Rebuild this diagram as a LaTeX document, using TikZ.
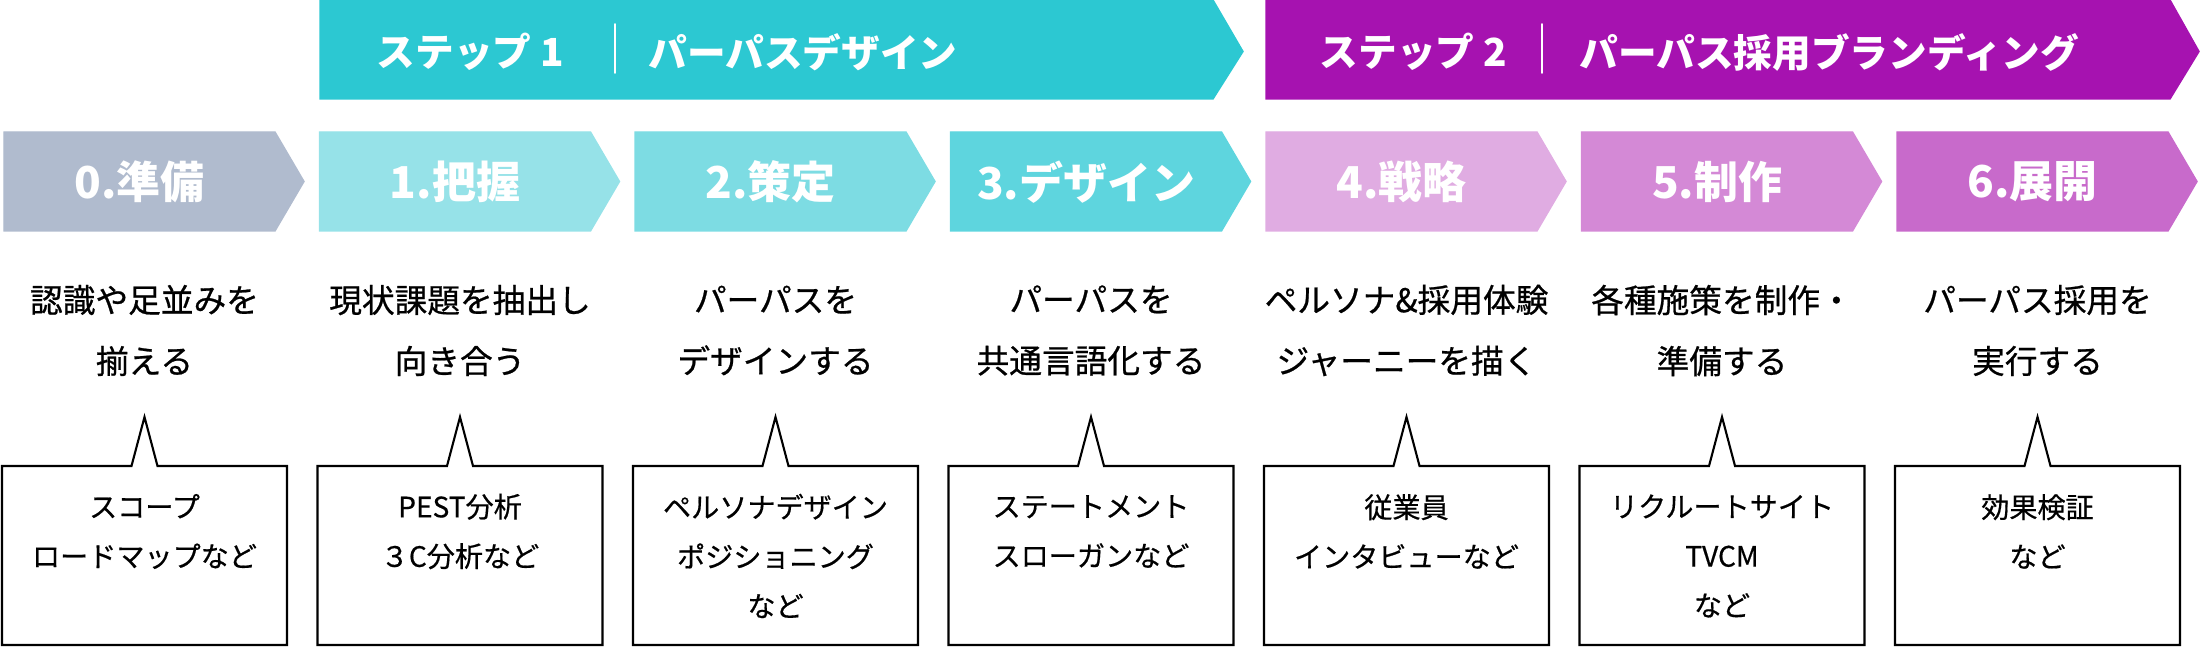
\documentclass[tikz,border=0pt]{standalone}
\usepackage{fontspec}
\setmainfont{Noto Sans CJK JP}
\newfontfamily\descfont{Noto Sans CJK JP}[FakeBold=0.7]
\newfontfamily\toolfont{Noto Sans CJK JP}[FakeBold=0.5]
\usetikzlibrary{positioning}
\definecolor{color0}{RGB}{176,187,206}
\definecolor{color1}{RGB}{150,226,232}
\definecolor{color2}{RGB}{125,220,227}
\definecolor{color3}{RGB}{94,213,222}
\definecolor{color4}{RGB}{224,172,226}
\definecolor{color5}{RGB}{212,137,214}
\definecolor{color6}{RGB}{200,106,203}
\definecolor{colorstep1}{RGB}{44,200,210}
\definecolor{colorstep2}{RGB}{166,18,176}
\tikzset{
  bannertext/.style={text=white, inner sep=0pt, font=\bfseries\fontsize{11}{13}\selectfont},
  divider/.style={white, line width=0.45pt},
  steplabel/.style={text=white, inner sep=0pt, font=\bfseries\fontsize{12.5}{15}\selectfont},
  desc/.style={align=center, inner sep=0pt, font=\descfont\fontsize{9.3}{17.36}\selectfont},
  boxtext/.style={align=center, inner sep=0pt, font=\toolfont\fontsize{8}{14.08}\selectfont},
  callout/.style={draw=black, line width=0.6pt, fill=white}
}

\begin{document}
\begin{tikzpicture}[line cap=round]
        \useasboundingbox (0,0) rectangle (22,6.47);

        \filldraw [colorstep1] (3.20,6.47) -- (12.13,6.47) -- (12.43,5.955) -- (12.13,5.48) -- (3.20,5.48) -- cycle;
        \filldraw [colorstep2] (12.66,6.47) -- (21.70,6.47) -- (21.99,5.955) -- (21.70,5.48) -- (12.66,5.48) -- cycle;

        \node[bannertext, anchor=west] (step1) at (3.76,5.95) {ステップ 1};
        \draw[divider] (6.15,6.23) -- (6.15,5.74);
        \node[bannertext, anchor=west] (title1) at (6.48,5.95) {パーパスデザイン};

        \node[bannertext, anchor=west] (step2) at (13.19,5.95) {ステップ 2};
        \draw[divider] (15.42,6.23) -- (15.42,5.74);
        \node[bannertext, anchor=west] (title2) at (15.79,5.95) {パーパス採用ブランディング};

        \filldraw [color0] (0.04,5.15) -- (2.75,5.15) -- (3.04,4.655) -- (2.75,4.16) -- (0.04,4.16) -- cycle;
        \filldraw [color1] (3.195,5.15) -- (5.905,5.15) -- (6.195,4.655) -- (5.905,4.16) -- (3.195,4.16) -- cycle;
        \filldraw [color2] (6.35,5.15) -- (9.06,5.15) -- (9.35,4.655) -- (9.06,4.16) -- (6.35,4.16) -- cycle;
        \filldraw [color3] (9.505,5.15) -- (12.215,5.15) -- (12.505,4.655) -- (12.215,4.16) -- (9.505,4.16) -- cycle;
        \filldraw [color4] (12.66,5.15) -- (15.37,5.15) -- (15.66,4.655) -- (15.37,4.16) -- (12.66,4.16) -- cycle;
        \filldraw [color5] (15.815,5.15) -- (18.525,5.15) -- (18.815,4.655) -- (18.525,4.16) -- (15.815,4.16) -- cycle;
        \filldraw [color6] (18.97,5.15) -- (21.68,5.15) -- (21.97,4.655) -- (21.68,4.16) -- (18.97,4.16) -- cycle;

        \node[steplabel] (prep) at (1.395,4.65) {0.準備};
        \node[steplabel] (grasp) at (4.55,4.65) {1.把握};
        \node[steplabel] (define) at (7.705,4.65) {2.策定};
        \node[steplabel] (design) at (10.86,4.65) {3.デザイン};
        \node[steplabel] (strategy) at (14.015,4.65) {4.戦略};
        \node[steplabel] (produce) at (17.17,4.65) {5.制作};
        \node[steplabel] (deploy) at (20.325,4.65) {6.展開};

        \node[desc] (prepdesc) at (1.445,3.165) {認識や足並みを\\揃える};
        \node[desc] (graspdesc) at (4.60,3.165) {現状課題を抽出し\\向き合う};
        \node[desc] (definedesc) at (7.755,3.165) {パーパスを\\デザインする};
        \node[desc] (designdesc) at (10.91,3.165) {パーパスを\\共通言語化する};
        \node[desc] (strategydesc) at (14.065,3.165) {ペルソナ\&採用体験\\ジャーニーを描く};
        \node[desc] (producedesc) at (17.22,3.165) {各種施策を制作・\\準備する};
        \node[desc] (deploydesc) at (20.375,3.165) {パーパス採用を\\実行する};

        \draw[callout] (0.02,1.81) -- (1.315,1.81) -- (1.445,2.30) -- (1.575,1.81) -- (2.87,1.81) -- (2.87,0.02) -- (0.02,0.02) -- cycle;
        \draw[callout] (3.175,1.81) -- (4.47,1.81) -- (4.60,2.30) -- (4.73,1.81) -- (6.025,1.81) -- (6.025,0.02) -- (3.175,0.02) -- cycle;
        \draw[callout] (6.33,1.81) -- (7.625,1.81) -- (7.755,2.30) -- (7.885,1.81) -- (9.18,1.81) -- (9.18,0.02) -- (6.33,0.02) -- cycle;
        \draw[callout] (9.485,1.81) -- (10.78,1.81) -- (10.91,2.30) -- (11.04,1.81) -- (12.335,1.81) -- (12.335,0.02) -- (9.485,0.02) -- cycle;
        \draw[callout] (12.64,1.81) -- (13.935,1.81) -- (14.065,2.30) -- (14.195,1.81) -- (15.49,1.81) -- (15.49,0.02) -- (12.64,0.02) -- cycle;
        \draw[callout] (15.795,1.81) -- (17.09,1.81) -- (17.22,2.30) -- (17.35,1.81) -- (18.645,1.81) -- (18.645,0.02) -- (15.795,0.02) -- cycle;
        \draw[callout] (18.95,1.81) -- (20.245,1.81) -- (20.375,2.30) -- (20.505,1.81) -- (21.80,1.81) -- (21.80,0.02) -- (18.95,0.02) -- cycle;

        \node[boxtext] (preptools) at (1.445,1.155) {スコープ\\ロードマップなど};
        \node[boxtext] (grasptools) at (4.60,1.155) {PEST分析\\３C分析など};
        \node[boxtext] (definetools) at (7.755,0.91) {ペルソナデザイン\\ポジショニング\\など};
        \node[boxtext] (designtools) at (10.91,1.155) {ステートメント\\スローガンなど};
        \node[boxtext] (strategytools) at (14.065,1.155) {従業員\\インタビューなど};
        \node[boxtext] (producetools) at (17.22,0.91) {リクルートサイト\\TVCM\\など};
        \node[boxtext] (deploytools) at (20.375,1.155) {効果検証\\など};
    \end{tikzpicture}
\end{document}
